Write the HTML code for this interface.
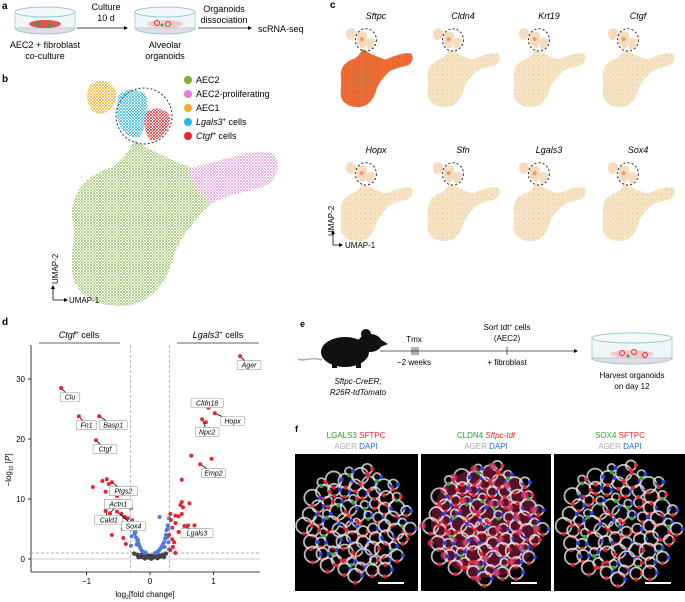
<!DOCTYPE html>
<html><head><meta charset="utf-8"><style>
html,body{margin:0;padding:0;background:#fff}
svg{display:block;font-family:"Liberation Sans",sans-serif}
</style></head><body>
<svg id="fig" width="685" height="602" viewBox="0 0 685 602">
<defs>
<pattern id="pGreen" width="3" height="3" patternUnits="userSpaceOnUse"><rect width="3" height="3" fill="#fff"/><circle cx="1" cy="1" r="0.9" fill="#7db33a"/><circle cx="2.5" cy="2.5" r="0.5" fill="#8cbf45"/></pattern>
<pattern id="pPink" width="3" height="3" patternUnits="userSpaceOnUse"><rect width="3" height="3" fill="#fff"/><circle cx="1" cy="1" r="0.9" fill="#e67ee0"/><circle cx="2.5" cy="2.5" r="0.5" fill="#ea8ae4"/></pattern>
<pattern id="pOrange" width="3" height="3" patternUnits="userSpaceOnUse"><rect width="3" height="3" fill="#fff"/><circle cx="1" cy="1" r="1" fill="#f4ad1e"/><circle cx="2.5" cy="2.5" r="0.6" fill="#f4ad1e"/></pattern>
<pattern id="pCyan" width="3" height="3" patternUnits="userSpaceOnUse"><rect width="3" height="3" fill="#fff"/><circle cx="1" cy="1" r="1" fill="#27b9ea"/><circle cx="2.5" cy="2.5" r="0.6" fill="#27b9ea"/></pattern>
<pattern id="pRed" width="3" height="3" patternUnits="userSpaceOnUse"><rect width="3" height="3" fill="#fff"/><circle cx="1" cy="1" r="1" fill="#e8262b"/><circle cx="2.5" cy="2.5" r="0.6" fill="#e8262b"/></pattern>
<pattern id="pBeige" width="14" height="14" patternUnits="userSpaceOnUse"><rect width="14" height="14" fill="#f4e4c4"/><circle cx="3" cy="4" r="1.3" fill="#eb8a50"/><circle cx="10" cy="11" r="1" fill="#f0b080"/></pattern>
<pattern id="pDark" width="6" height="6" patternUnits="userSpaceOnUse"><rect width="6" height="6" fill="#e8642a"/><circle cx="2" cy="2" r="1" fill="#f5b48a"/></pattern>
<path id="umMain" d="M135,140 C150,150 175,163 200,170 C225,160 255,148 273,153 C280,160 280,178 265,186 C245,192 222,196 210,205 C195,220 178,238 172,262 C165,285 150,303 125,306 C100,307 80,298 73,278 C70,255 76,240 72,215 C72,190 88,175 110,168 C122,162 128,152 135,140 Z"/>
<path id="umPinkArm" d="M190,168 C225,160 255,148 273,153 C280,160 280,178 265,186 C245,192 222,196 210,205 C205,198 198,188 190,180 Z"/>
<path id="umTop" d="M90,85 C100,78 112,80 116,92 C118,104 108,115 98,114 C88,112 84,95 90,85 Z M118,96 C125,88 138,88 146,95 C150,108 146,125 140,137 C128,140 118,128 117,115 Z M146,112 C155,106 168,108 170,118 C170,130 160,142 150,140 C144,132 143,120 146,112 Z"/>
</defs>

<!-- panel a -->
<g>
<text x="2" y="9" font-size="10" font-weight="bold">a</text>
<g>
<ellipse cx="45" cy="28" rx="30" ry="6" fill="#e6dbe5" stroke="#9cc9d3"/>
<rect x="15" y="12" width="60" height="16" fill="#eef6f8" stroke="#9cc9d3" stroke-width="0.8"/>
<ellipse cx="45" cy="12" rx="30" ry="5" fill="#f3f9fb" stroke="#9cc9d3"/>
<ellipse cx="45" cy="24" rx="16" ry="4" fill="#d55"/>
<circle cx="38" cy="23" r="2" fill="#3a3"/><circle cx="50" cy="25" r="2" fill="#3a3"/>
</g>
<text x="45" y="48" font-size="9" text-anchor="middle">AEC2 + fibroblast</text>
<text x="45" y="59" font-size="9" text-anchor="middle">co-culture</text>
<text x="106" y="10" font-size="9" text-anchor="middle">Culture</text>
<text x="106" y="21" font-size="9" text-anchor="middle">10 d</text>
<line x1="77" y1="28" x2="125" y2="28" stroke="#000" stroke-width="0.8"/><path d="M128,28 l-4,-2 v4z"/>
<g>
<ellipse cx="165" cy="28" rx="30" ry="6" fill="#e6dbe5" stroke="#9cc9d3"/>
<rect x="135" y="12" width="60" height="16" fill="#eef6f8" stroke="#9cc9d3" stroke-width="0.8"/>
<ellipse cx="165" cy="12" rx="30" ry="5" fill="#f3f9fb" stroke="#9cc9d3"/>
<ellipse cx="165" cy="24" rx="18" ry="4" fill="#f2c9cf"/>
<circle cx="157" cy="23" r="2.5" fill="none" stroke="#d33"/><circle cx="168" cy="24" r="2.5" fill="none" stroke="#d33"/><circle cx="162" cy="25" r="1.5" fill="#3a3"/>
</g>
<text x="165" y="48" font-size="9" text-anchor="middle">Alveolar</text>
<text x="165" y="59" font-size="9" text-anchor="middle">organoids</text>
<text x="224" y="12" font-size="9" text-anchor="middle">Organoids</text>
<text x="224" y="23" font-size="9" text-anchor="middle">dissociation</text>
<line x1="198" y1="28" x2="248" y2="28" stroke="#000" stroke-width="0.8"/><path d="M252,28 l-4,-2 v4z"/>
<text x="258" y="32" font-size="9">scRNA-seq</text>
</g>

<!-- panel b -->
<g>
<text x="2" y="82" font-size="10" font-weight="bold">b</text>
<use href="#umMain" fill="url(#pGreen)"/>
<use href="#umPinkArm" fill="url(#pPink)"/>
<path d="M90,85 C100,78 112,80 116,92 C118,104 108,115 98,114 C88,112 84,95 90,85 Z" fill="url(#pOrange)"/>
<path d="M118,96 C125,88 138,88 146,95 C150,108 146,125 140,137 C128,140 118,128 117,115 Z" fill="url(#pCyan)"/>
<path d="M146,112 C155,106 168,108 170,118 C170,130 160,142 150,140 C144,132 143,120 146,112 Z" fill="url(#pRed)"/>
<ellipse cx="144" cy="116" rx="28" ry="28" fill="none" stroke="#333" stroke-dasharray="2,2" transform="rotate(-20 144 116)"/>
<g font-size="9">
<circle cx="188" cy="80" r="4" fill="#7db33a"/><text x="196" y="83">AEC2</text>
<circle cx="188" cy="94" r="4" fill="#e67ee0"/><text x="196" y="97">AEC2-proliferating</text>
<circle cx="188" cy="108" r="4" fill="#f4ad1e"/><text x="196" y="111">AEC1</text>
<circle cx="188" cy="122" r="4" fill="#27b9ea"/><text x="196" y="125"><tspan font-style="italic">Lgals3</tspan><tspan font-size="6" dy="-3">+</tspan><tspan dy="3"> cells</tspan></text>
<circle cx="188" cy="136" r="4" fill="#e8262b"/><text x="196" y="139"><tspan font-style="italic">Ctgf</tspan><tspan font-size="6" dy="-3">+</tspan><tspan dy="3"> cells</tspan></text>
</g>
<path d="M53,300 V288 M53,300 H65" stroke="#000" stroke-width="0.8" fill="none"/><path d="M53,285 l-2,4 h4z M68,300 l-4,-2 v4z"/>
<text x="69" y="303" font-size="8">UMAP-1</text>
<text transform="translate(58,284) rotate(-90)" font-size="8">UMAP-2</text>
</g>

<!-- panel c -->
<g id="panelC">
<text x="330" y="8" font-size="10" font-weight="bold">c</text>
<text transform="translate(334,236) rotate(-90)" font-size="8">UMAP-2</text>
<path d="M333,245 V232 M333,245 H340" stroke="#000" stroke-width="0.8" fill="none"/>
<path d="M343,245 l-4,-2 v4z M333,230 l-2,4 h4z"/>
<text x="345" y="248" font-size="8">UMAP-1</text>
</g>

<!-- panel d -->
<g id="panelD">
<text x="2" y="325" font-size="10" font-weight="bold">d</text>
<text x="79" y="338" font-size="9" text-anchor="middle"><tspan font-style="italic">Ctgf</tspan><tspan font-size="6" dy="-3">+</tspan><tspan dy="3"> cells</tspan></text>
<line x1="39" y1="343" x2="120" y2="343" stroke="#999" stroke-width="1.5"/>
<text x="218" y="338" font-size="9" text-anchor="middle"><tspan font-style="italic">Lgals3</tspan><tspan font-size="6" dy="-3">+</tspan><tspan dy="3"> cells</tspan></text>
<line x1="177" y1="343" x2="259" y2="343" stroke="#999" stroke-width="1.5"/>
</g>

<!-- panel e -->
<g>
<text x="300" y="327" font-size="9" font-weight="bold">e</text>
<g>
<ellipse cx="345" cy="352" rx="24" ry="15" fill="#111"/>
<ellipse cx="370" cy="343" rx="12" ry="9" fill="#111"/>
<path d="M378,338 l10,6 l-10,4z" fill="#111"/>
<circle cx="366" cy="334" r="5" fill="#111"/>
<path d="M322,360 C312,356 305,362 298,359" stroke="#c9a3a3" stroke-width="1.5" fill="none"/>
<rect x="332" y="362" width="5" height="6" fill="#111"/><rect x="356" y="362" width="5" height="6" fill="#111"/>
</g>
<text x="358" y="384" font-size="8" font-style="italic" text-anchor="middle">Sftpc-CreER;</text>
<text x="358" y="395" font-size="8" font-style="italic" text-anchor="middle">R26R-tdTomato</text>
<line x1="380" y1="351" x2="575" y2="351" stroke="#333" stroke-width="0.8"/><path d="M578,351 l-4,-2 v4z"/>
<path d="M412,347 v8 M414,347 v8 M416,347 v8 M418,347 v8 M507,347 v8" stroke="#333" stroke-width="0.8"/>
<text x="414" y="342" font-size="8" text-anchor="middle">Tmx</text>
<text x="414" y="365" font-size="8" text-anchor="middle">−2 weeks</text>
<text x="507" y="330" font-size="8" text-anchor="middle">Sort tdt<tspan font-size="5" dy="-3">+</tspan><tspan dy="3"> cells</tspan></text>
<text x="507" y="341" font-size="8" text-anchor="middle">(AEC2)</text>
<text x="507" y="365" font-size="8" text-anchor="middle">+ fibroblast</text>
<g>
<ellipse cx="632" cy="358" rx="40" ry="6" fill="#e6dbe5" stroke="#9cc9d3"/>
<rect x="592" y="338" width="80" height="20" fill="#eef6f8" stroke="#9cc9d3" stroke-width="0.8"/>
<ellipse cx="632" cy="338" rx="40" ry="5" fill="#f3f9fb" stroke="#9cc9d3"/>
<ellipse cx="632" cy="354" rx="22" ry="4" fill="#f2c9cf"/>
<circle cx="622" cy="353" r="2.5" fill="none" stroke="#d33"/><circle cx="634" cy="352" r="2.5" fill="none" stroke="#d33"/><circle cx="645" cy="355" r="2.5" fill="none" stroke="#d33"/><circle cx="628" cy="356" r="1.5" fill="#3a3"/>
</g>
<text x="632" y="378" font-size="8" text-anchor="middle">Harvest organoids</text>
<text x="632" y="389" font-size="8" text-anchor="middle">on day 12</text>
</g>

<!-- panel f -->
<g id="panelF">
<text x="295" y="432" font-size="9" font-weight="bold">f</text>
<text x="356" y="438" font-size="8" text-anchor="middle"><tspan fill="#2ca02c">LGALS3</tspan> <tspan fill="#e8262b">SFTPC</tspan></text>
<text x="356" y="449" font-size="8" text-anchor="middle"><tspan fill="#aaa">AGER</tspan> <tspan fill="#1f6fe0">DAPI</tspan></text>
<text x="486" y="438" font-size="8" text-anchor="middle"><tspan fill="#2ca02c">CLDN4</tspan> <tspan fill="#e8262b" font-style="italic">Sftpc-tdt</tspan></text>
<text x="486" y="449" font-size="8" text-anchor="middle"><tspan fill="#aaa">AGER</tspan> <tspan fill="#1f6fe0">DAPI</tspan></text>
<text x="620" y="438" font-size="8" text-anchor="middle"><tspan fill="#2ca02c">SOX4</tspan> <tspan fill="#e8262b">SFTPC</tspan></text>
<text x="620" y="449" font-size="8" text-anchor="middle"><tspan fill="#aaa">AGER</tspan> <tspan fill="#1f6fe0">DAPI</tspan></text>
</g>
</svg>
<script>
const NS='http://www.w3.org/2000/svg';
function mk(tag,attrs,parent){const e=document.createElementNS(NS,tag);for(const k in attrs)e.setAttribute(k,attrs[k]);parent.appendChild(e);return e;}

// ---- panel c
const geneNames=['Sftpc','Cldn4','Krt19','Ctgf','Hopx','Sfn','Lgals3','Sox4'];
const geneMainHigh=[1,0,0,0,0,0,0,0];
const pc=document.getElementById('panelC');
const colX=[340,427,513,602], rowY=[28,162];
geneNames.forEach((g,i)=>{
  const ox=colX[i%4], oy=rowY[Math.floor(i/4)], s=0.35;
  const grp=mk('g',{transform:`translate(${ox-70*s},${oy-80*s}) scale(${s})`},pc);
  
  
  mk('use',{href:'#umMain',fill:geneMainHigh[i]?'url(#pDark)':'url(#pBeige)'},grp);
  mk('use',{href:'#umTop',fill:'#f5dcc0'},grp);
  mk('circle',{cx:132,cy:112,r:6,fill:'#ee9a6a'},grp);
  mk('ellipse',{cx:144,cy:114,rx:30,ry:32,fill:'none',stroke:'#333','stroke-width':3,'stroke-dasharray':'6,6'},grp);
  const t=mk('text',{x:ox+36,y:oy-9,'font-size':9,'font-style':'italic','text-anchor':'middle'},pc);
  t.textContent=g;
  
  
});

// ---- panel d volcano data
const geneLabels=['Clu','Fn1','Basp1','Ctgf','Ptgs2','Actn1','Cald1','Sox4','Ager','Cldn18','Hopx','Npc2','Emp2','Lgals3'];
const geneFC=[-1.4,-1.12,-0.8,-0.85,-0.6,-0.63,-0.7,-0.52,1.42,0.92,1.02,0.82,0.79,0.54];
const geneP=[28.5,23.8,23.8,19.8,12.8,7.6,8.0,7.9,33.8,25.2,24.3,23.3,15.8,5.5];
const labelFC=[-1.26,-1.0,-0.58,-0.71,-0.42,-0.5,-0.65,-0.26,1.56,0.9,1.3,0.9,1.0,0.74];
const labelP=[27,22.3,22.3,18.3,11.3,9.2,6.5,5.5,32.3,26,23,21.2,14.3,4.3];
const redFC=[-0.9,-0.75,-0.68,-0.65,-0.7,-0.52,-0.45,-0.4,-0.35,-0.43,-0.6,-0.42,-0.38,-0.33,0.5,0.65,0.97,0.88,0.5,0.48,0.62,0.52,0.32,0.4,0.45,0.5,0.6,0.4,0.35,0.3,0.35,0.38,0.32,0.4,0.36,0.45,0.7,0.33];
const redP=[12,13,13.3,12.5,11.2,10.5,7.5,7,6.8,5,4,3.5,2.5,5.5,13.2,17.2,16.7,22.8,9.5,9,9.3,8.6,7.5,7.2,7.1,7.5,5.6,6,5.2,4,3.3,2.8,1.5,1,2,4.5,5.6,6.5];
const blueFC=[-0.3,-0.28,-0.26,-0.25,-0.24,-0.22,-0.2,-0.18,-0.17,-0.15,-0.13,-0.11,-0.09,-0.27,-0.23,-0.19,-0.29,-0.21,0.3,0.28,0.26,0.25,0.24,0.22,0.2,0.18,0.16,0.14,0.12,0.1,0.29,0.27,0.23,0.15,0.28,0.08,-0.07,-0.3,0.3];
const blueP=[8.5,6.5,5.5,4.8,4.2,3.6,3.0,2.6,2.2,1.8,1.4,1.2,1.0,5.8,4.5,3.2,3.8,2.4,6.8,5.6,4.8,4.0,3.4,2.8,2.4,2.0,1.7,1.4,1.2,1.0,2.8,3.6,2.0,7.0,5.0,1.0,1.1,2.2,1.6];
const greyFC=[-0.25,-0.2,-0.15,-0.1,-0.05,0,0.05,0.1,0.15,0.2,0.25,-0.18,-0.08,0.02,0.12,0.22,-0.12,0.08];
const greyP=[0.9,0.7,0.6,0.4,0.3,0.2,0.3,0.4,0.6,0.7,0.9,0.3,0.1,0.05,0.15,0.35,0.8,0.7];
const yTicks=[0,10,20,30];
const xTicks=[-1,0,1];

const X0=150, XS=63.5, Y0=559, YS=6.0;
const sx=v=>X0+v*XS, sy=v=>Y0-v*YS;
const pd=document.getElementById('panelD');
mk('line',{x1:31,y1:345,x2:31,y2:572,stroke:'#000','stroke-width':0.8},pd);
mk('line',{x1:31,y1:572,x2:260,y2:572,stroke:'#000','stroke-width':0.8},pd);
mk('line',{x1:31,y1:sy(0),x2:260,y2:sy(0),stroke:'#bbb','stroke-width':0.8},pd);
mk('line',{x1:31,y1:sy(1),x2:260,y2:sy(1),stroke:'#999','stroke-width':0.7,'stroke-dasharray':'3,2'},pd);
mk('line',{x1:sx(-0.31),y1:345,x2:sx(-0.31),y2:572,stroke:'#999','stroke-width':0.7,'stroke-dasharray':'3,2'},pd);
mk('line',{x1:sx(0.31),y1:345,x2:sx(0.31),y2:572,stroke:'#999','stroke-width':0.7,'stroke-dasharray':'3,2'},pd);
yTicks.forEach(v=>{
  mk('line',{x1:28,y1:sy(v),x2:31,y2:sy(v),stroke:'#000','stroke-width':0.8},pd);
  const t=mk('text',{x:25,y:sy(v)+3,'font-size':8,'text-anchor':'end'},pd);t.textContent=v;
  
  
});
xTicks.forEach(v=>{
  mk('line',{x1:sx(v),y1:572,x2:sx(v),y2:575,stroke:'#000','stroke-width':0.8},pd);
  const t=mk('text',{x:sx(v),y:584,'font-size':8,'text-anchor':'middle'},pd);t.textContent=v===-1?'−1':v;
  
  
});
let xl=mk('text',{x:145,y:597,'font-size':8,'text-anchor':'middle'},pd);
xl.innerHTML='log<tspan font-size="5" dy="2">2</tspan><tspan dy="-2">[fold change]</tspan>';


let yl=mk('text',{transform:'translate(11,470) rotate(-90)','font-size':8,'text-anchor':'middle'},pd);
yl.innerHTML='−log<tspan font-size="5" dy="2">10</tspan><tspan dy="-2"> [</tspan><tspan font-style="italic">P</tspan>]';


mk('ellipse',{cx:sx(0),cy:sy(0.4),rx:14,ry:3,fill:'#444'},pd);
greyFC.forEach((v,i)=>{const c=mk('circle',{cx:sx(v),cy:sy(greyP[i]),r:2.2,fill:'#444'},pd);
  
  });
blueFC.forEach((v,i)=>{const c=mk('circle',{cx:sx(v),cy:sy(blueP[i]),r:2,fill:'#4f78e0'},pd);
  
  });
redFC.forEach((v,i)=>{const c=mk('circle',{cx:sx(v),cy:sy(redP[i]),r:2,fill:'#e8262b'},pd);
  
  });
geneLabels.forEach((g,i)=>{
  const px=sx(geneFC[i]),py=sy(geneP[i]);
  const lx=sx(labelFC[i]), ly=sy(labelP[i]);
  mk('line',{x1:px,y1:py,x2:lx,y2:ly,stroke:'#000','stroke-width':0.8},pd);
  const c=mk('circle',{cx:px,cy:py,r:2,fill:'#e8262b'},pd);
  
  
  const w=g.length*4.2+7;
  mk('rect',{x:lx-w/2,y:ly-4.5,width:w,height:9,fill:'#fff',stroke:'#999','stroke-width':0.6,rx:1},pd);
  const t=mk('text',{x:lx,y:ly+2.5,'font-size':7,'font-style':'italic','text-anchor':'middle'},pd);
  t.textContent=g;
  
  
});

// ---- panel f images (decorative texture)
const pf=document.getElementById('panelF');
const imgs=[[295,454,123,137],[421,454,130,137],[554,454,131,137]];
imgs.forEach((b,k)=>{
  const g=mk('g',{},pf);
  
  
  mk('rect',{x:b[0],y:b[1],width:b[2],height:b[3],fill:'#000'},g);
  const cx=b[0]+b[2]/2, cy=b[1]+b[3]/2;
  if(k==1) mk('circle',{cx:cx,cy:cy,r:55,fill:'#7a1a3a',opacity:0.7},g);
  for(let i=0;i<80;i++){
    const a=i*2.399, rr=Math.sqrt(i/80)*Math.min(b[2],b[3])*0.45;
    const x=cx+Math.cos(a)*rr, y=cy+Math.sin(a)*rr;
    const rad=4+(i*7%5);
    mk('circle',{cx:x,cy:y,r:rad,fill:'none',stroke:'#e8e8e8','stroke-width':1.8,opacity:0.8},g);
    mk('circle',{cx:x+rad,cy:y,r:2,fill:(i%3==0)?'#e8262b':'#2a3fe0'},g);
    mk('circle',{cx:x,cy:y+rad,r:2,fill:(i%5==0)?'#2fae3a':'#e8262b'},g);
    if(k==1&&i%2==0) mk('circle',{cx:x-rad,cy:y,r:3.5,fill:'#d03060',opacity:0.8},g);
  }
  mk('line',{x1:b[0]+b[2]-40,y1:b[1]+b[3]-8,x2:b[0]+b[2]-14,y2:b[1]+b[3]-8,stroke:'#fff','stroke-width':2},g);
});
</script>
</body></html>
